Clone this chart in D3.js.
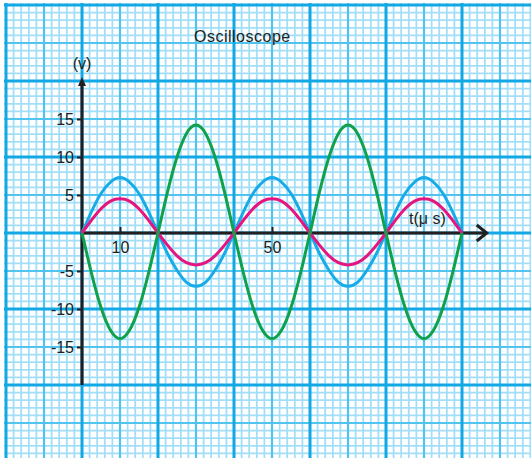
<!DOCTYPE html>
<html>
<head>
<meta charset="utf-8">
<script src="https://cdn.jsdelivr.net/npm/d3@7"></script>
<style>
  html, body { margin: 0; padding: 0; background: #fff; }
  svg { display: block; }
  text { font-family: "Liberation Sans", Arial, Helvetica, sans-serif; fill: #231f20; }
</style>
</head>
<body>
<svg id="chart" width="531" height="458"></svg>
<script>
// ---- data ----
const title = "Oscilloscope";
const yLabel = "(v)";
const xLabel = "t(\u03bc s)";
const xTickValues = [10, 50];
const yTickValues = [15, 10, 5, -5, -10, -15];

const time = [0, 2.5, 5, 7.5, 10, 12.5, 15, 17.5, 20, 22.5, 25, 27.5, 30, 32.5, 35, 37.5,
  40, 42.5, 45, 47.5, 50, 52.5, 55, 57.5, 60, 62.5, 65, 67.5, 70, 72.5, 75, 77.5,
  80, 82.5, 85, 87.5, 90, 92.5, 95, 97.5, 100];

const blueSeries = [0, 2.8, 5.2, 6.7, 7.3, 6.7, 5.2, 2.8, 0, -2.7, -4.9, -6.5, -7.0, -6.5, -4.9, -2.7,
  0, 2.8, 5.2, 6.7, 7.3, 6.7, 5.2, 2.8, 0, -2.7, -4.9, -6.5, -7.0, -6.5, -4.9, -2.7,
  0, 2.8, 5.2, 6.7, 7.3, 6.7, 5.2, 2.8, 0];

const magentaSeries = [0, 1.7, 3.2, 4.2, 4.5, 4.2, 3.2, 1.7, 0, -1.6, -3.0, -3.9, -4.2, -3.9, -3.0, -1.6,
  0, 1.7, 3.2, 4.2, 4.5, 4.2, 3.2, 1.7, 0, -1.6, -3.0, -3.9, -4.2, -3.9, -3.0, -1.6,
  0, 1.7, 3.2, 4.2, 4.5, 4.2, 3.2, 1.7, 0];

const greenSeries = [0, -5.3, -9.8, -12.8, -13.9, -12.8, -9.8, -5.3, 0, 5.4, 10.0, 13.1, 14.2, 13.1, 10.0, 5.4,
  0, -5.3, -9.8, -12.8, -13.9, -12.8, -9.8, -5.3, 0, 5.4, 10.0, 13.1, 14.2, 13.1, 10.0, 5.4,
  0, -5.3, -9.8, -12.8, -13.9, -12.8, -9.8, -5.3, 0];

const seriesColors = ["#17ace8", "#e5157f", "#0fa14b"];

// ---- scales ----
const svg = d3.select("#chart");
const x = d3.scaleLinear().domain([0, 100]).range([82, 462]);
const y = d3.scaleLinear().domain([0, 30]).range([233, 5]);

// ---- graph-paper grid ----
const grid = svg.append("g");
const xGrid = d3.range(-20, 130, 2);
const yGrid = d3.range(30, -31, -1);
function gridStyle(k) {
  if (k % 10 === 0) return { c: "#12a8e6", w: 3 };
  if (k % 5 === 0) return { c: "#52c3ef", w: 2.2 };
  return { c: "#a2def7", w: 1.8 };
}
// minor first, then medium, then major
[0, 1, 2].forEach(level => {
  xGrid.forEach(v => {
    const k = v / 2;
    const lv = (k % 10 === 0) ? 2 : (k % 5 === 0 ? 1 : 0);
    if (lv !== level) return;
    const s = gridStyle(k);
    grid.append("line").attr("x1", x(v)).attr("x2", x(v)).attr("y1", y(30) - 2).attr("y2", 458)
      .attr("stroke", s.c).attr("stroke-width", s.w);
  });
  yGrid.forEach(v => {
    const k = Math.abs(v);
    const lv = (k % 10 === 0) ? 2 : (k % 5 === 0 ? 1 : 0);
    if (lv !== level) return;
    const s = gridStyle(k);
    grid.append("line").attr("x1", x(-20) - 2).attr("x2", 531).attr("y1", y(v)).attr("y2", y(v))
      .attr("stroke", s.c).attr("stroke-width", s.w);
  });
});

// ---- axes ----
const axisColor = "#231f20";
// y axis line with filled arrow
svg.append("line").attr("x1", x(0)).attr("x2", x(0)).attr("y1", y(-20)).attr("y2", y(20) + 4)
  .attr("stroke", axisColor).attr("stroke-width", 3);
svg.append("path")
  .attr("d", `M${x(0)},${y(20) - 4} L${x(0) - 4},${y(20) + 5} L${x(0) + 4},${y(20) + 5} Z`)
  .attr("fill", axisColor);

// x axis line with open arrow
svg.append("line").attr("x1", x(0)).attr("x2", x(106.5)).attr("y1", y(0)).attr("y2", y(0))
  .attr("stroke", axisColor).attr("stroke-width", 3);
svg.append("path")
  .attr("d", `M${x(106.5) - 10},${y(0) - 8} L${x(106.5)},${y(0)} L${x(106.5) - 10},${y(0) + 8}`)
  .attr("fill", "none").attr("stroke", axisColor).attr("stroke-width", 3)
  .attr("stroke-linecap", "butt").attr("stroke-linejoin", "miter");

// y ticks
const yAxis = svg.append("g").attr("transform", `translate(${x(0)},0)`)
  .call(d3.axisLeft(y).tickValues(yTickValues).tickSize(5).tickPadding(3).tickFormat(d => String(d)));
yAxis.select(".domain").remove();
yAxis.selectAll(".tick line").attr("stroke", axisColor).attr("stroke-width", 2);
yAxis.selectAll(".tick text").attr("font-size", 16).attr("fill", axisColor)
  .style("font-family", '"Liberation Sans", Arial, sans-serif');

// x ticks
const xAxis = svg.append("g").attr("transform", `translate(0,${y(0)})`)
  .call(d3.axisBottom(x).tickValues(xTickValues).tickSizeInner(-6).tickSizeOuter(0).tickPadding(9)
    .tickFormat(d => String(d)));
xAxis.select(".domain").remove();
xAxis.selectAll(".tick line").attr("stroke", axisColor).attr("stroke-width", 2);
xAxis.selectAll(".tick text").attr("font-size", 16).attr("fill", axisColor)
  .style("font-family", '"Liberation Sans", Arial, sans-serif');

// ---- curves ----
const seriesList = [blueSeries, magentaSeries, greenSeries];
const line = d3.line().x((d, i) => x(time[i])).y(d => y(d)).curve(d3.curveNatural);
seriesList.forEach((s, i) => {
  svg.append("path").datum(s).attr("d", line)
    .attr("fill", "none").attr("stroke", seriesColors[i]).attr("stroke-width", 3)
    .attr("stroke-linejoin", "round");
});

// ---- labels ----
svg.append("text").attr("x", 194).attr("y", 42).attr("font-size", 16)
  .attr("letter-spacing", 0.5).text(title);
svg.append("text").attr("x", x(0)).attr("y", 69).attr("text-anchor", "middle")
  .attr("font-size", 16).text(yLabel);
svg.append("text").attr("x", 409).attr("y", 224).attr("font-size", 16).text(xLabel);
</script>
</body>
</html>
